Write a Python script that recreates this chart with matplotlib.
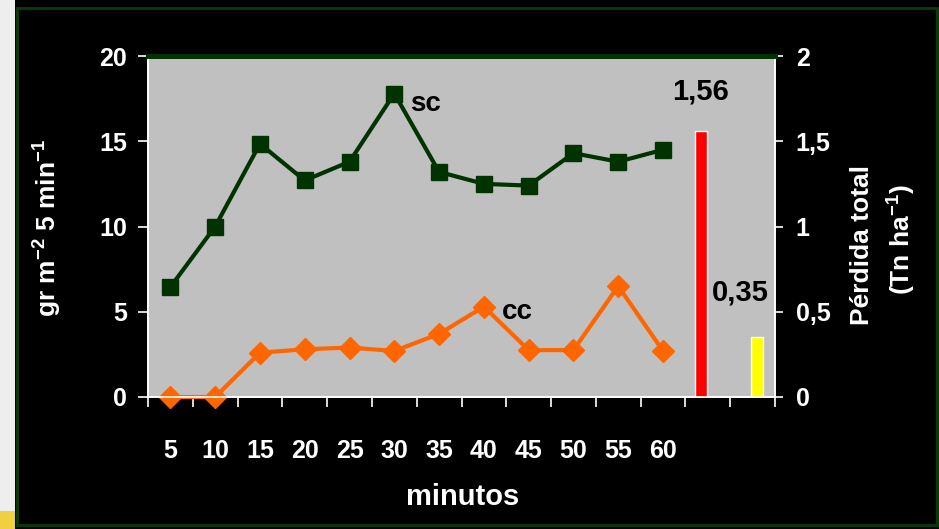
import matplotlib
matplotlib.use("Agg")
import matplotlib.pyplot as plt
from matplotlib.patches import Rectangle

# Datos
minutos = [5, 10, 15, 20, 25, 30, 35, 40, 45, 50, 55, 60]
sc = [6.45, 10.0, 14.85, 12.7, 13.8, 17.8, 13.2, 12.5, 12.4, 14.3, 13.8, 14.5]
cc = [0.0, 0.0, 2.6, 2.8, 2.9, 2.7, 3.7, 5.3, 2.75, 2.75, 6.5, 2.7]
perdida_total = [1.56, 0.35]
etiquetas_perdida = ["1,56", "0,35"]
colores_barras = ["#ff0000", "#ffff00"]
ticks_izq = [0, 5, 10, 15, 20]
ticks_der = [0, 0.5, 1, 1.5, 2]
etiquetas_der = ["0", "0,5", "1", "1,5", "2"]

plt.rcParams["font.family"] = ["Liberation Sans Narrow", "Liberation Sans", "DejaVu Sans"]
plt.rcParams["font.weight"] = "bold"
plt.rcParams["mathtext.fontset"] = "custom"
plt.rcParams["mathtext.bf"] = "Liberation Sans:bold"
plt.rcParams["mathtext.rm"] = "Liberation Sans:bold"
plt.rcParams["mathtext.default"] = "bf"

fig = plt.figure(figsize=(9.39, 5.29), dpi=100, facecolor="black")

# Franja clara a la izquierda y marco verde oscuro
fig.patches.append(Rectangle((0, 0), 15 / 939, 1, transform=fig.transFigure,
                             facecolor="#eeeeee", edgecolor="none", zorder=0))
fig.patches.append(Rectangle((0, 0), 15 / 939, 18 / 529, transform=fig.transFigure,
                             facecolor="#f0d040", edgecolor="none", zorder=0))
fig.patches.append(Rectangle((17 / 939, 4 / 529), 920 / 939, 517 / 529,
                             transform=fig.transFigure, facecolor="none",
                             edgecolor="#0b3d0b", linewidth=2, zorder=0))

ax = fig.add_axes([148 / 939, 1 - 397 / 529, 627 / 939, 341 / 529])
ax.set_facecolor("#c0c0c0")
ax2 = ax.twinx()

n_cat = len(minutos) + len(perdida_total)
x_linea = list(range(1, len(minutos) + 1))

ax.plot(x_linea, sc, color="#003300", linewidth=3, marker="s", markersize=11.5,
        zorder=3, clip_on=False)
ax.plot(x_linea, cc, color="#ff6600", linewidth=3, marker="D", markersize=11.5,
        zorder=3, clip_on=False)

# Barras de pérdida total en el eje derecho
desplaz = [-0.16, 0.1]
for i, (v, col) in enumerate(zip(perdida_total, colores_barras)):
    xb = len(minutos) + 1 + i + desplaz[i]
    ax2.bar(xb, v, width=0.27, color=col, edgecolor="white", linewidth=1)
ax2.text(len(minutos) + 1 - 0.16, 1.71, etiquetas_perdida[0], ha="center",
         va="bottom", fontsize=21, color="black")
ax2.text(len(minutos) + 1.72, 0.53, etiquetas_perdida[1], ha="center",
         va="bottom", fontsize=21, color="black")

ax.text(6.35, 17.2, "sc", fontsize=20, color="black", family="Liberation Sans",
        ha="left", va="center")
ax.text(8.4, 5.0, "cc", fontsize=20, color="black", family="Liberation Sans",
        ha="left", va="center")

ax.set_xlim(0.5, n_cat + 0.5)
ax.set_ylim(0, 20)
ax2.set_ylim(0, 2)

# Ticks del eje x: marcas en los límites, etiquetas en los centros
ax.set_xticks([i + 0.5 for i in range(n_cat + 1)])
ax.set_xticklabels([])
ax.set_xticks(x_linea, minor=True)
ax.set_xticklabels([str(m) for m in minutos], minor=True)
ax.tick_params(axis="x", which="major", direction="out", length=7, width=1.2,
               color="white")
ax.tick_params(axis="x", which="minor", length=0, pad=30, labelsize=18,
               labelcolor="white")

ax.set_yticks(ticks_izq)
ax.tick_params(axis="y", direction="out", length=7, width=1.2, color="white",
               labelsize=18, labelcolor="white", pad=8)
ax2.set_yticks(ticks_der)
ax2.set_yticklabels(etiquetas_der)
ax2.tick_params(axis="y", direction="out", length=6, width=1.2, color="white",
                labelsize=18, labelcolor="white", pad=9)

for a in (ax, ax2):
    for lado in ("left", "right", "bottom"):
        a.spines[lado].set_color("white")
        a.spines[lado].set_linewidth(1.2)
    a.spines["top"].set_color("#003300")
    a.spines["top"].set_linewidth(3.5)

# Títulos de los ejes
fig.text(48 / 939, 1 - 228 / 529, r"gr m$^{-2}$ 5 min$^{-1}$", rotation=90,
         ha="center", va="center", fontsize=19, color="white",
         family="Liberation Sans")
fig.text(463 / 939, 1 - 497 / 529, "minutos", ha="center", va="center",
         fontsize=21, color="white")
fig.text(862 / 939, 1 - 245 / 529, "Pérdida total", rotation=90, ha="center",
         va="center", fontsize=19, color="white", family="Liberation Sans")
fig.text(902 / 939, 1 - 240 / 529, r"(Tn ha$^{-1}$)", rotation=90, ha="center",
         va="center", fontsize=19, color="white", family="Liberation Sans")

plt.savefig("out.png", dpi=100, facecolor=fig.get_facecolor())
